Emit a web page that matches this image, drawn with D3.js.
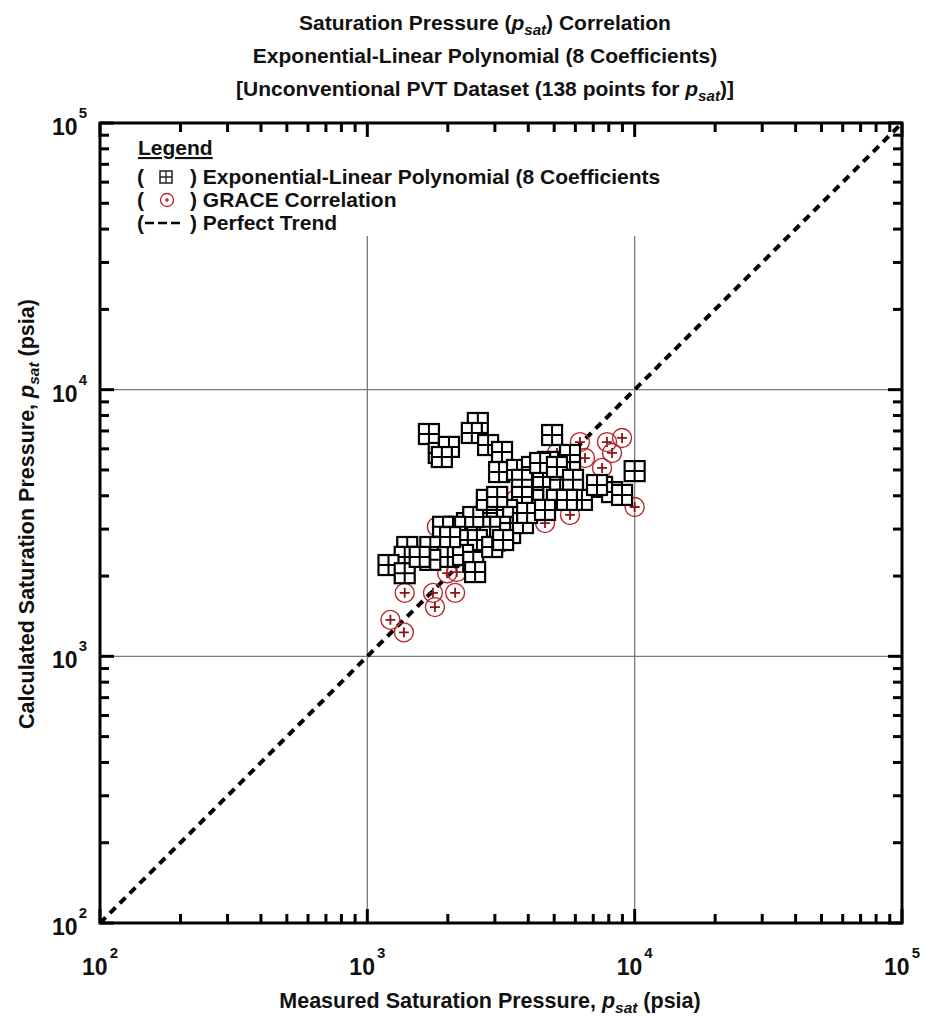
<!DOCTYPE html>
<html>
<head>
<meta charset="utf-8">
<script src="https://cdn.jsdelivr.net/npm/d3@7"></script>
<style>
    body { margin: 0; background: #fff; }
    svg text {
        font-family: "Liberation Sans", Arial, sans-serif;
        font-weight: bold;
        fill: #111;
    }
</style>
</head>
<body>
<div id="chart"></div>
<script>
/* --- Data (psia) --- */
// Exponential-Linear Polynomial (8 coefficients): measured vs calculated
const polyMeasured = [1700, 1850, 2020, 1900, 2590, 2460, 2830, 3190, 3110, 3630,
    4130, 4910, 4740, 5730, 5730, 10000, 4170, 4540, 5260, 6350,
    7550, 8230, 8970, 5120, 4170, 4310, 3790, 3790, 2950, 3330,
    3510, 2800, 2640, 2360, 2490, 2130, 1920, 3140, 3420, 3820,
    3960, 2570, 2180, 1870, 1720, 2000, 2280, 2490, 1720, 1410,
    1380, 1200, 1380, 2530, 1570, 2930, 3220, 2040, 2800, 3060,
    4430, 5120, 5880, 4620, 5580, 7230];
const polyCalculated = [6820, 5790, 6100, 5590, 7500, 6880, 6200, 5840, 4910, 5000,
    5130, 6760, 5360, 5690, 4910, 4950, 4320, 4700, 4590, 3860,
    4320, 4130, 4030, 3860, 3860, 3540, 4590, 3960, 3630, 3540,
    3330, 3450, 3060, 3160, 3330, 3060, 3060, 3060, 2900, 3160,
    3450, 2730, 2730, 2570, 2570, 2360, 2400, 2260, 2300, 2570,
    2360, 2200, 2050, 2070, 2360, 2570, 2730, 2800, 3860, 3960,
    5310, 5130, 4590, 3540, 3860, 4390];

// GRACE correlation: measured vs calculated
const graceMeasured = [1220, 1370, 1380, 1760, 1790, 2130, 1990, 2160, 6240, 6520,
    7880, 8970, 8230, 7550, 10000, 5730, 4620, 3140, 1820, 3570,
    5120];
const graceCalculated = [1370, 1230, 1730, 1730, 1530, 1730, 2050, 2070, 6360, 5540,
    6360, 6590, 5790, 5090, 3630, 3390, 3160, 2660, 3060, 3860,
    5790];

const axisDomain = [100, 100000];
const decadeExponents = [2, 3, 4, 5];
const gridDecades = [1000, 10000];

/* --- Layout --- */
const W = 925, H = 1025;
const plot = { left: 100, right: 902, top: 123, bottom: 923 };
const RED = '#b8282c';

const svg = d3.select('#chart').append('svg')
    .attr('width', W)
    .attr('height', H);

const x = d3.scaleLog().domain(axisDomain).range([plot.left, plot.right]);
const y = d3.scaleLog().domain(axisDomain).range([plot.bottom, plot.top]);

function label(parent, px, py, size, anchor, rot) {
    return parent.append('text')
        .attr('transform', `translate(${px},${py})${rot ? ` rotate(${rot})` : ''}`)
        .attr('text-anchor', anchor || 'start')
        .attr('font-size', size);
}

// italic p with subscript "sat"
function addPsat(t, size) {
    t.append('tspan').attr('font-style', 'italic').text('p');
    t.append('tspan').attr('font-style', 'italic').attr('font-size', size * 0.72).attr('dy', size * 0.22).text('sat');
    return t.append('tspan').attr('dy', -size * 0.22);
}

// Titles
const titleSize = 21;
const t1 = label(svg, 485, 30, titleSize, 'middle');
t1.append('tspan').text('Saturation Pressure (');
addPsat(t1, titleSize).text(') Correlation');

label(svg, 485, 63, titleSize, 'middle')
    .text('Exponential-Linear Polynomial (8 Coefficients)');

const t3 = label(svg, 485, 96, titleSize, 'middle');
t3.append('tspan').text('[Unconventional PVT Dataset (138 points for ');
addPsat(t3, titleSize).text(')]');

// Grid at major decades
svg.append('g').selectAll('line').data(gridDecades).join('line')
    .attr('x1', d => x(d)).attr('x2', d => x(d))
    .attr('y1', plot.top).attr('y2', plot.bottom)
    .attr('stroke', '#7a7a7a').attr('stroke-width', 1.3);
svg.append('g').selectAll('line').data(gridDecades).join('line')
    .attr('y1', d => y(d)).attr('y2', d => y(d))
    .attr('x1', plot.left).attr('x2', plot.right)
    .attr('stroke', '#7a7a7a').attr('stroke-width', 1.3);

// Legend background hides the grid behind it
svg.append('rect').attr('x', 112).attr('y', 131).attr('width', 562).attr('height', 105).attr('fill', '#fff');

// Perfect trend
svg.append('line')
    .attr('x1', x(axisDomain[0])).attr('y1', y(axisDomain[0]))
    .attr('x2', x(axisDomain[1])).attr('y2', y(axisDomain[1]))
    .attr('stroke', '#000').attr('stroke-width', 4)
    .attr('stroke-dasharray', '8,6');

// GRACE circles
const grace = graceMeasured.map((m, i) => ({ m, c: graceCalculated[i] }));
const circG = svg.append('g').selectAll('g').data(grace).join('g')
    .attr('transform', d => `translate(${x(d.m)},${y(d.c)})`);
circG.append('circle').attr('r', 9.5).attr('fill', 'none').attr('stroke', RED).attr('stroke-width', 1.4);
circG.append('path').attr('d', 'M-5,0H5M0,-5V5').attr('stroke', '#8a1418').attr('stroke-width', 1.8);

// Polynomial squares
const poly = polyMeasured.map((m, i) => ({ m, c: polyCalculated[i] }));
const sqG = svg.append('g').selectAll('g').data(poly).join('g')
    .attr('transform', d => `translate(${x(d.m)},${y(d.c)})`);
sqG.append('rect').attr('x', -10).attr('y', -10).attr('width', 20).attr('height', 20)
    .attr('fill', '#fff').attr('stroke', '#000').attr('stroke-width', 2.2);
sqG.append('path').attr('d', 'M-10,0H10M0,-10V10').attr('stroke', '#000').attr('stroke-width', 2);

// Ticks (inward on all four sides)
const ticks = x.ticks();
const isMajor = d => Math.abs(Math.log10(d) - Math.round(Math.log10(d))) < 1e-9;
const tickG = svg.append('g').attr('stroke', '#000').attr('stroke-width', 3);
ticks.forEach(d => {
    const len = isMajor(d) ? 14 : 9;
    tickG.append('line').attr('x1', x(d)).attr('x2', x(d)).attr('y1', plot.bottom).attr('y2', plot.bottom - len);
    tickG.append('line').attr('x1', x(d)).attr('x2', x(d)).attr('y1', plot.top).attr('y2', plot.top + len);
    tickG.append('line').attr('y1', y(d)).attr('y2', y(d)).attr('x1', plot.left).attr('x2', plot.left + len);
    tickG.append('line').attr('y1', y(d)).attr('y2', y(d)).attr('x1', plot.right).attr('x2', plot.right - len);
});

// Frame
svg.append('rect')
    .attr('x', plot.left).attr('y', plot.top)
    .attr('width', plot.right - plot.left).attr('height', plot.bottom - plot.top)
    .attr('fill', 'none').attr('stroke', '#000').attr('stroke-width', 3);

// Decade labels
const labelSize = 23;
decadeExponents.forEach(e => {
    const v = Math.pow(10, e);
    const tx = label(svg, x(v), plot.bottom + 52, labelSize, 'middle');
    tx.append('tspan').text('10');
    tx.append('tspan').attr('font-size', 15).attr('dx', 2).attr('dy', -17).text(e);

    const ty = label(svg, plot.left - 13, y(v) + 12, labelSize, 'end');
    ty.append('tspan').text('10');
    ty.append('tspan').attr('font-size', 15).attr('dx', 1).attr('dy', -17).text(e);
});

// Axis titles
const axisSize = 21.5;
const xt = label(svg, 490, 1008, axisSize, 'middle');
xt.append('tspan').text('Measured Saturation Pressure, ');
addPsat(xt, axisSize).text(' (psia)');

const yt = label(svg, 34, 514, axisSize, 'middle', -90);
yt.append('tspan').text('Calculated Saturation Pressure, ');
addPsat(yt, axisSize).text(' (psia)');

// Legend
const legSize = 21;
const leg = svg.append('g');
label(leg, 138, 155, legSize).attr('text-decoration', 'underline').text('Legend');

const rows = [
    { y: 184, label: ') Exponential-Linear Polynomial (8 Coefficients', kind: 'square' },
    { y: 207, label: ') GRACE Correlation', kind: 'circle' },
    { y: 230, label: ') Perfect Trend', kind: 'dash' }
];
rows.forEach(r => {
    label(leg, 137, r.y, legSize).text('(');
    label(leg, 190, r.y, legSize).text(r.label);
    const cy = r.y - 7;
    if (r.kind === 'square') {
        leg.append('rect').attr('x', 160).attr('y', cy - 6).attr('width', 12).attr('height', 12)
            .attr('fill', '#fff').attr('stroke', '#222').attr('stroke-width', 1.5);
        leg.append('path').attr('d', `M160,${cy}H172M166,${cy - 6}V${cy + 6}`).attr('stroke', '#222').attr('stroke-width', 1.3);
    } else if (r.kind === 'circle') {
        leg.append('circle').attr('cx', 167).attr('cy', cy).attr('r', 6.5)
            .attr('fill', 'none').attr('stroke', RED).attr('stroke-width', 1.3);
        leg.append('circle').attr('cx', 167).attr('cy', cy).attr('r', 1.8).attr('fill', RED);
    } else {
        leg.append('line').attr('x1', 145).attr('x2', 181).attr('y1', cy).attr('y2', cy)
            .attr('stroke', '#000').attr('stroke-width', 2.5).attr('stroke-dasharray', '9,4');
    }
});
</script>
</body>
</html>
